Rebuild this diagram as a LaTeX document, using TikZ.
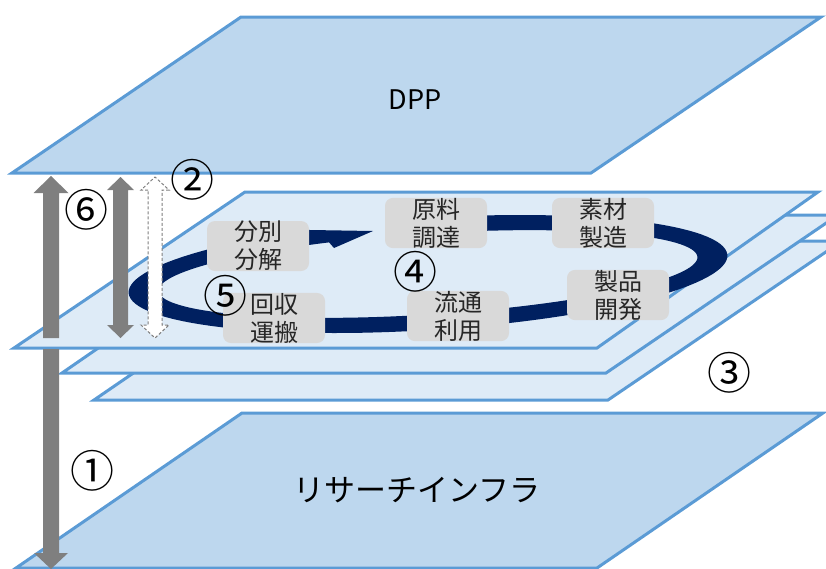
\documentclass[tikz,border=0pt]{standalone}
\usepackage{fontspec}
\setmainfont{Noto Sans CJK JP}
\definecolor{planeA}{HTML}{BDD7EE}
\definecolor{planeB}{HTML}{DEEBF7}
\definecolor{edgeblue}{HTML}{5B9BD5}
\definecolor{navy}{HTML}{002060}
\definecolor{boxgray}{HTML}{D9D9D9}
\definecolor{arrowgray}{HTML}{7F7F7F}
\definecolor{textdark}{HTML}{262626}
\begin{document}
\begin{tikzpicture}[x=1pt,y=-1pt,
  plane/.style={fill=planeA, draw=edgeblue, line width=3pt, line join=miter},
  midplane/.style={fill=planeB, draw=edgeblue, line width=3pt, line join=miter},
  stagebox/.style={fill=boxgray, rounded corners=8pt, minimum width=102pt, minimum height=50pt,
    align=center, font=\fontsize{24}{28}\selectfont, text=textdark, inner sep=0pt},
  num/.style={font=\fontsize{44}{44}\selectfont, inner sep=0pt, text=black},
  garrow/.style={fill=arrowgray},
  darrow/.style={fill=white, draw=arrowgray, dashed, line width=1pt, dash pattern=on 3pt off 2pt},
  ring/.style={fill=navy}
]
\useasboundingbox (0,0) rectangle (826,568);
\clip (0,0) rectangle (826,568);
% DPP plane
\draw[plane] (241,17) -- (821,17) -- (591,173) -- (12,173) -- cycle;
\node (dpp) at (415,100) {\fontsize{27}{27}\selectfont DPP};
% bottom plane
\draw[plane] (242,413) -- (823,413) -- (597,568) -- (16,568) -- cycle;
\node (infra) at (417,490) {\fontsize{31}{31}\selectfont リサーチインフラ};
% stacked middle planes
\draw[midplane] (94,400) -- (608,400) -- (842,241) -- (326,241) -- cycle;
\draw[midplane] (62,373) -- (606,373) -- (838,215) -- (291,215) -- cycle;
\draw[midplane] (14,348) -- (597,348) -- (818,192) -- (245,192) -- cycle;
% circular arrow
\fill[ring] plot[domain=272:607, samples=120]
   ({428+300*cos(\x)*cos(-3.62)-56*sin(\x)*sin(-3.62)},
    {274+300*cos(\x)*sin(-3.62)+56*sin(\x)*cos(-3.62)})
   -- (373,231) -- (334,248)
   -- plot[domain=272:609, samples=120]
   ({428+270*cos(881-\x)*cos(-3.62)-40.5*sin(881-\x)*sin(-3.62)},
    {274+270*cos(881-\x)*sin(-3.62)+40.5*sin(881-\x)*cos(-3.62)})
   -- cycle;
% stage boxes
\node[stagebox] (bunbetsu) at (258,246) {分別\\分解};
\node[stagebox] (genryo) at (436,223) {原料\\調達};
\node[stagebox] (sozai) at (603,223) {素材\\製造};
\node[stagebox] (seihin) at (618,295) {製品\\開発};
\node[stagebox] (ryutsu) at (458,316) {流通\\利用};
\node[stagebox] (kaishu) at (274,318) {回収\\運搬};
% vertical arrows
\fill[garrow] (43,338) -- (43,193) -- (33.5,193) -- (51,176) -- (68.5,193) -- (59,193) -- (59,338) -- cycle;
\fill[garrow] (43,349) -- (43,553) -- (34,553) -- (51,569) -- (68,553) -- (59,553) -- (59,349) -- cycle;
\fill[garrow] (113,190) -- (107,190) -- (120.5,177) -- (134,190) -- (128,190) -- (128,325) -- (134,325) -- (120.5,338) -- (107,325) -- (113,325) -- cycle;
\draw[darrow] (148,190) -- (141,190) -- (155,177) -- (169,190) -- (162,190) -- (162,325) -- (169,325) -- (155,338) -- (141,325) -- (148,325) -- cycle;
% numbers
\node[num] (n1) at (92,471) {①};
\node[num] (n2) at (192,180) {②};
\node[num] (n3) at (729,373) {③};
\node[num] (n4) at (415,272) {④};
\node[num] (n5) at (225,296) {⑤};
\node[num] (n6) at (86,210) {⑥};
\end{tikzpicture}
\end{document}
